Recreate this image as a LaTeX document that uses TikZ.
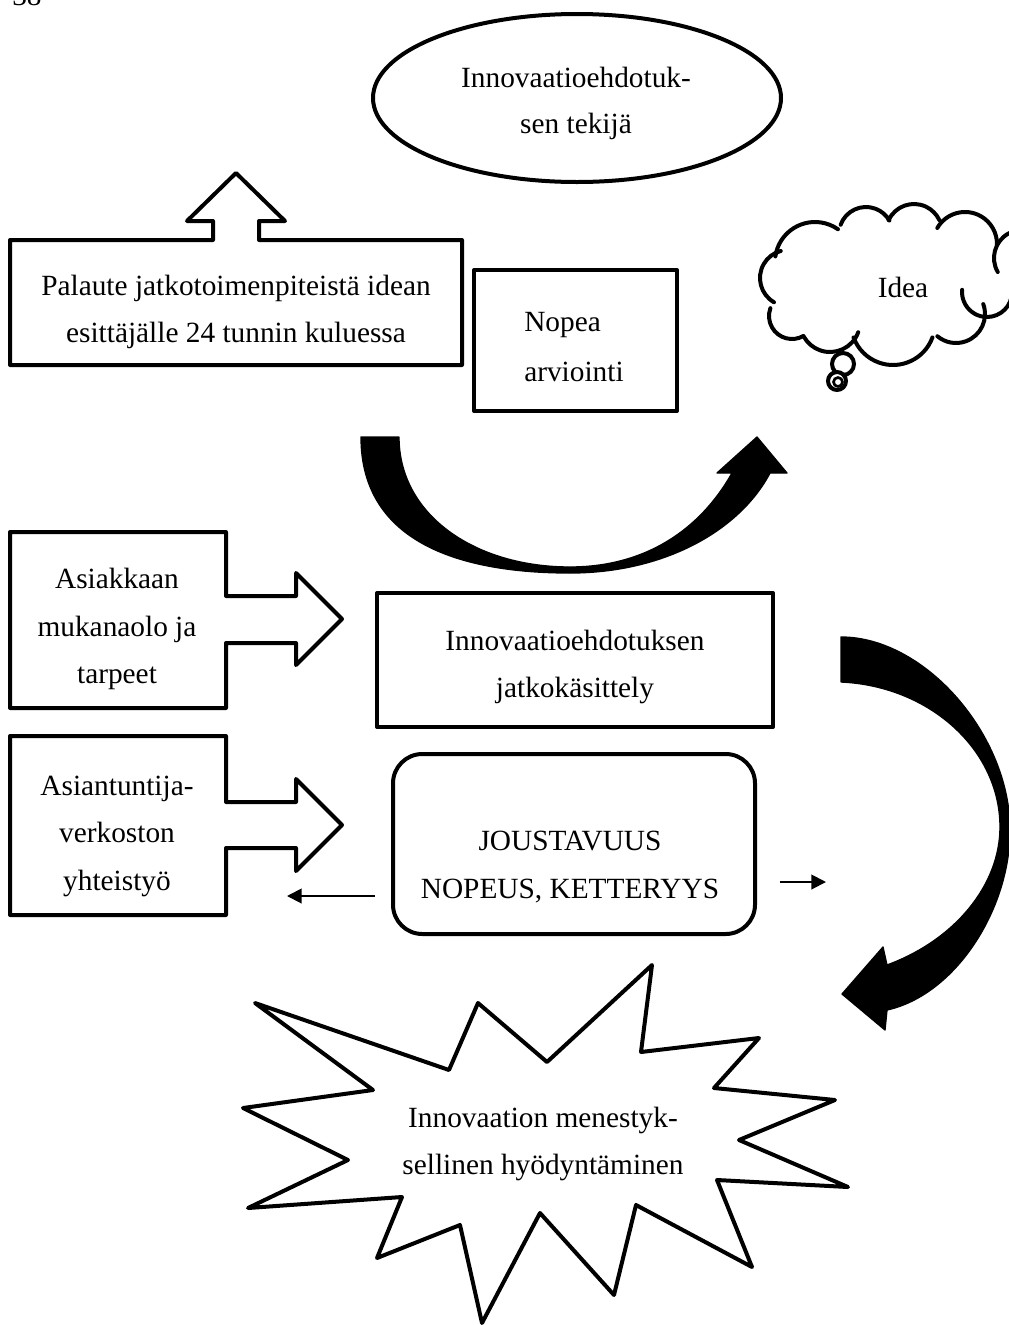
\documentclass[tikz,border=0pt]{standalone}
\usepackage{fontspec}
\setmainfont{Liberation Serif}
\usetikzlibrary{shapes.geometric,arrows.meta}

\begin{document}
\begin{tikzpicture}[x=0.75pt,y=-0.75pt,
  outline/.style={draw=black, line width=3pt, line join=round},
  lbl/.style={font=\fontsize{22}{35.6}\selectfont, align=center, inner sep=0pt},
  widelbl/.style={font=\fontsize{22}{37.5}\selectfont, inner sep=0pt},
  thinarrow/.style={line width=1.5pt, -{Triangle[length=11pt,width=11pt]}},
  bigarrow/.style={fill=black, draw=black, line width=1pt, line join=round},
  puff/.style={draw=black, line width=3pt, line cap=round}]
\useasboundingbox (0,0) rectangle (1009,1325);
\clip (0,0) rectangle (1009,1325);

% page number at the top edge
\node[anchor=base west, font=\fontsize{22}{26}\selectfont, inner sep=0pt] (pageno) at (12,5) {38};

% originator of the proposal
\node[ellipse, outline, minimum width=306pt, minimum height=126pt] (maker) at (577,98) {};
\node[font=\fontsize{22}{34.5}\selectfont, inner sep=0pt, align=center] (makertext) at (576,103) {Innovaatioehdotuk-\\sen tekijä};

% feedback box with upward block arrow
\draw[outline] (10,240) -- (213,240) -- (213,221) -- (187,221) -- (236,173)
  -- (285,221) -- (259,221) -- (259,240) -- (462,240) -- (462,365) -- (10,365) -- cycle;
\node[lbl] (feedback) at (236,312) {Palaute jatkotoimenpiteistä idean\\esittäjälle 24 tunnin kuluessa};

% quick evaluation
\node[outline, minimum width=152.25pt, minimum height=105.75pt, inner sep=0pt] (quick) at (575.5,340.5) {};
\node[widelbl, align=left, anchor=west] (quicktext) at (524,347) {Nopea\\arviointi};

% idea cloud
\begin{scope}
  \draw[puff] (830,322) ++(20:30) arc[start angle=20, end angle=150, radius=30];
  \draw[puff] (792,316) ++(60:23) arc[start angle=60, end angle=200, radius=23];
  \draw[puff] (788,278) ++(120:28) arc[start angle=120, end angle=255, radius=28];
  \draw[puff] (815,262) ++(188:40) arc[start angle=188, end angle=305, radius=40];
  \draw[puff] (866,234) ++(200:27) arc[start angle=200, end angle=330, radius=27];
  \draw[puff] (914,232) ++(205:28) arc[start angle=205, end angle=335, radius=28];
  \draw[puff] (965,244) ++(210:32) arc[start angle=210, end angle=362, radius=32];
  \draw[puff] (1022,258) ++(150:28) arc[start angle=150, end angle=300, radius=28];
  \draw[puff] (987,292) ++(0:25) arc[start angle=0, end angle=185, radius=25];
  \draw[puff] (956,314) ++(-20:29) arc[start angle=-20, end angle=130, radius=29];
  \draw[puff] (893,323) ++(20:42) arc[start angle=20, end angle=160, radius=42];
  \draw[puff, fill=white] (843,364) circle[radius=11];
  \draw[puff, fill=white] (837,381) circle[radius=9];
  \draw[line width=2pt] (838,382) circle[radius=4.5];
\end{scope}
\node[lbl] (idea) at (903,287) {Idea};

% curved arrow from evaluation back to the idea
\path[bigarrow] (361,437) .. controls (361,545) and (465,573) .. (570,573)
  .. controls (665,573) and (740,530) .. (770,473) -- (787,473) -- (757,437)
  -- (717,473) -- (732,473) .. controls (700,530) and (645,567) .. (570,567)
  .. controls (475,567) and (399,515) .. (399,437) -- cycle;

% customer involvement
\draw[outline] (10,532) -- (226,532) -- (226,596) -- (296,596) -- (296,573) -- (342,619)
  -- (296,665) -- (296,643) -- (226,643) -- (226,708) -- (10,708) -- cycle;
\node[lbl] (customer) at (117,629) {Asiakkaan\\mukanaolo ja\\tarpeet};

% expert network
\draw[outline] (10,736) -- (226,736) -- (226,802) -- (296,802) -- (296,779) -- (342,825)
  -- (296,871) -- (296,848) -- (226,848) -- (226,915) -- (10,915) -- cycle;
\node[lbl] (experts) at (117,836) {Asiantuntija-\\verkoston\\yhteistyö};

% further processing
\node[outline, minimum width=297pt, minimum height=100.5pt, inner sep=0pt] (process) at (575,660) {};
\node[lbl] (processtext) at (575,667) {Innovaatioehdotuksen\\jatkokäsittely};

% flexibility box
\node[outline, rounded corners=22pt, minimum width=271.5pt, minimum height=135pt, inner sep=0pt] (flex) at (574,844) {};
\node[lbl] (flextext) at (570,867) {JOUSTAVUUS\\NOPEUS, KETTERYYS};

\coordinate (flexleft) at (375,896);
\coordinate (leftend) at (287,896);
\coordinate (flexright) at (780,882);
\coordinate (rightend) at (826,882);
\draw[thinarrow] (flexleft) -- (leftend);
\draw[thinarrow] (flexright) -- (rightend);

% curved arrow down to the result
\path[bigarrow] (841,637) .. controls (925,637) and (1010,735) .. (1010,830)
  .. controls (1010,910) and (955,995) .. (887,1010) -- (885,1030) -- (842,994)
  -- (883,947) -- (887,965) .. controls (955,940) and (1000,885) .. (1000,827)
  .. controls (1000,750) and (930,686) .. (841,682) -- cycle;

% result burst
\draw[outline] (255,1003) -- (449,1070) -- (478,1003) -- (547,1062) -- (652,965)
  -- (641,1052) -- (759,1038) -- (714,1088) -- (835,1100) -- (739,1140)
  -- (848,1187) -- (717,1180) -- (752,1267) -- (636,1205) -- (614,1295)
  -- (540,1213) -- (482,1323) -- (460,1225) -- (377,1258) -- (402,1197)
  -- (248,1208) -- (348,1160) -- (243,1108) -- (373,1090) -- cycle;
\node[lbl] (result) at (543,1144) {Innovaation menestyk-\\sellinen hyödyntäminen};
\end{tikzpicture}
\end{document}
